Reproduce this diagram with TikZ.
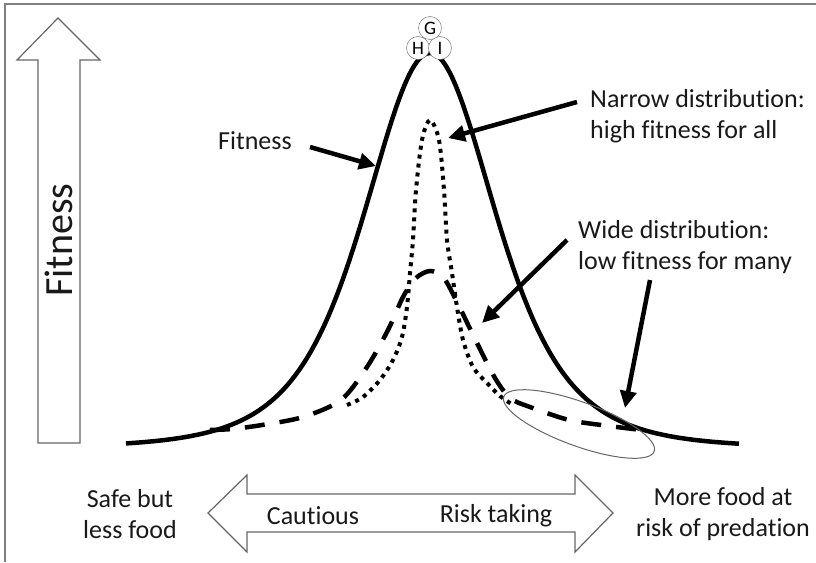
\documentclass[tikz,border=0pt]{standalone}
\usepackage{fontspec}
\setmainfont[Ligatures={NoCommon,NoRequired,NoContextual}]{Carlito}
\usetikzlibrary{arrows.meta}

\begin{document}
\begin{tikzpicture}[x=1pt,y=-1pt]
    \tikzset{txt/.style = {text=black!90,inner sep=0pt,font=\fontsize{26}{31}\selectfont}}
    \tikzset{pointer/.style = {-{Triangle[length=17pt,width=16pt]},line width=4.5pt}}
    \tikzset{hollow/.style = {draw=black!60,line width=1.2pt,fill=white}}
    \tikzset{ball/.style = {shape=circle,draw=black!60,fill=white,inner sep=0pt,minimum size=23pt,font=\fontsize{19}{19}\selectfont}}
    \useasboundingbox (0,0) rectangle (816,562);
    % frame
    \draw[black!50,line width=1.5pt] (5,562) -- (5,4) -- (816,4);
    % hollow arrows
    \draw[hollow] (58,18) -- (17,60) -- (38,60) -- (38,443) -- (80,443) -- (80,60) -- (100,60) -- cycle;
    \draw[hollow] (208,513) -- (247,475) -- (247,494) -- (575,494) -- (575,475) -- (613,513)
        -- (575,552) -- (575,532) -- (247,532) -- (247,552) -- cycle;
    % curves
    \draw[line width=4.5pt] plot[domain=-3.04:3.09,samples=150,smooth]
        ({430+100*\x},{448-395*(1+\x*\x/1.875)^(-2.5)});
    \draw[line width=4.5pt,dash pattern=on 20pt off 15pt] plot[smooth] coordinates {(210,430) (232,429)
        (262,425) (303,417) (341,400) (367,367) (388,330) (403,297) (416,278) (430,271) (443,277)
        (455,298) (477,343) (495,378) (510,398) (530,407) (569,420) (609,426) (650,431)};
    \draw[line width=4pt,dash pattern=on 4pt off 5pt] plot[smooth] coordinates {(347,405) (363,397)
        (380,380) (393,360) (402,337) (407,307) (410,273) (413,240) (416,190) (422,140) (430,120)
        (439,140) (444,190) (447,240) (452,273) (457,307) (463,340) (473,367) (487,383) (500,396)
        (513,405)};
    \draw[black!60,line width=1pt,rotate around={-20:(579,424)}] (579,424) ellipse [x radius=80,y radius=22];
    % balls
    \node[ball] (h) at (418,48) {H};
    \node[ball] (i) at (440,48) {I};
    \node[ball] (g) at (430,28) {G};
    % labels
    \node[txt,rotate=90,font=\fontsize{40}{40}\selectfont] (axis) at (58.5,240) {Fitness};
    \node[txt] (fit) at (255,141) {Fitness};
    \node[txt,anchor=west,align=left] (narrow) at (590,116) {Narrow distribution:\\high fitness for all};
    \node[txt,anchor=west,align=left] (wide) at (578,247) {Wide distribution:\\low fitness for many};
    \node[txt,align=center] (safe) at (130,514) {Safe but\\less food};
    \node[txt,align=center] (more) at (723,514) {More food at\\risk of predation};
    \node[txt] (cautious) at (313,516) {Cautious};
    \node[txt] (risk) at (496,516) {Risk taking};
    % pointers
    \coordinate (fitfrom) at (310,147);
    \coordinate (fitto) at (376,166);
    \coordinate (narrowfrom) at (577,102);
    \coordinate (narrowto) at (448,138);
    \coordinate (widefrom) at (567,240);
    \coordinate (wideto) at (482,323);
    \coordinate (tailfrom) at (650,280);
    \coordinate (tailto) at (625,408);
    \draw[pointer] (fitfrom) -- (fitto);
    \draw[pointer] (narrowfrom) -- (narrowto);
    \draw[pointer] (widefrom) -- (wideto);
    \draw[pointer] (tailfrom) -- (tailto);
\end{tikzpicture}
\end{document}
